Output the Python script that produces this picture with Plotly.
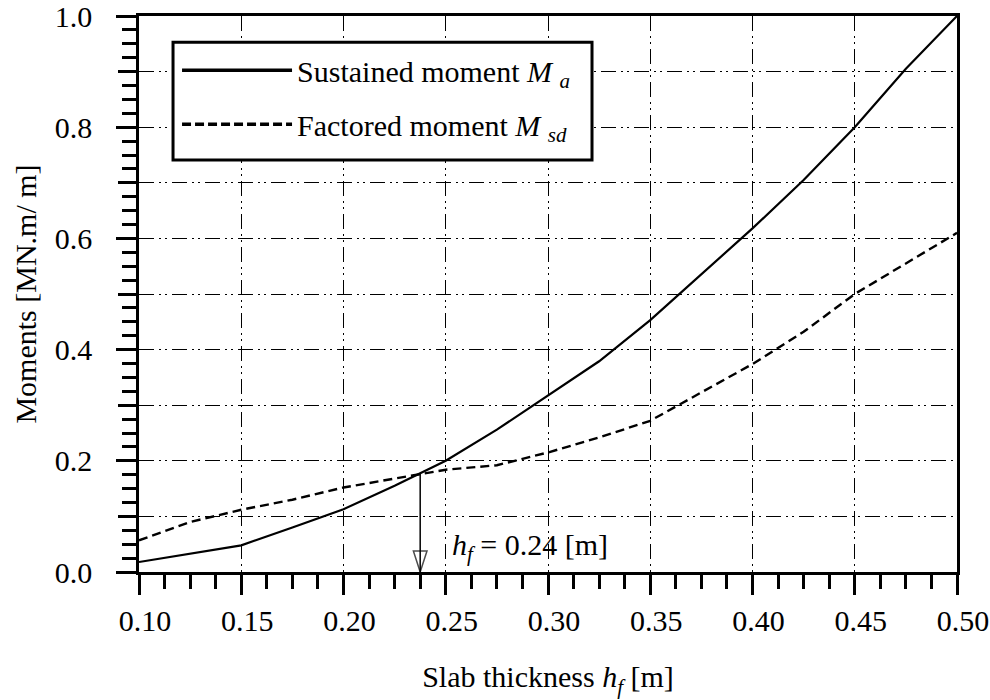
import plotly.graph_objects as go

# ---- data ----
thickness = [0.100, 0.125, 0.150, 0.175, 0.200, 0.225, 0.250, 0.275, 0.300,
             0.325, 0.350, 0.375, 0.400, 0.425, 0.450, 0.475, 0.500]
sustained_moment = [0.018, 0.033, 0.048, 0.080, 0.113, 0.155, 0.200, 0.256, 0.318,
                    0.379, 0.453, 0.535, 0.618, 0.705, 0.800, 0.905, 1.000]
factored_moment = [0.057, 0.090, 0.112, 0.130, 0.152, 0.168, 0.184, 0.192, 0.215,
                   0.242, 0.272, 0.323, 0.374, 0.432, 0.500, 0.555, 0.610]
hf_value = 0.2375
hf_moment = 0.177
hf_label = "<i>h<sub>f</sub></i> = 0.24 [m]"

series_names = ["Sustained moment <i>M</i> <sub><i>a</i></sub>",
                "Factored moment <i>M</i> <sub><i>sd</i></sub>"]

x_tickvals = [0.10, 0.15, 0.20, 0.25, 0.30, 0.35, 0.40, 0.45, 0.50]
x_ticktext = ["0.10", "0.15", "0.20", "0.25", "0.30", "0.35", "0.40", "0.45", "0.50"]
y_labelvals = [0.0, 0.2, 0.4, 0.6, 0.8, 1.0]
y_labeltext = ["0.0", "0.2", "0.4", "0.6", "0.8", "1.0"]
y_gridvals = [0.0, 0.1, 0.2, 0.3, 0.4, 0.5, 0.6, 0.7, 0.8, 0.9, 1.0]

FONT = "Liberation Serif"
GRID_DASH = "15px,5px,2px,4px,2px,5px"
FS = 30
SOLID_DASH = "solid"
DASHED = "9px,5px"

fig = go.Figure()
fig.add_trace(go.Scatter(
    x=thickness, y=sustained_moment, mode="lines", name=series_names[0],
    line=dict(color="black", width=2.2, dash=SOLID_DASH), showlegend=False))
fig.add_trace(go.Scatter(
    x=thickness, y=factored_moment, mode="lines", name=series_names[1],
    line=dict(color="black", width=2.4, dash=DASHED), showlegend=False))
# legend entries (thicker sample lines, as in the reference legend)
fig.add_trace(go.Scatter(
    x=[None], y=[None], mode="lines", name=series_names[0], legendgroup="a",
    line=dict(color="black", width=3.5, dash=SOLID_DASH)))
fig.add_trace(go.Scatter(
    x=[None], y=[None], mode="lines", name=series_names[1], legendgroup="b",
    line=dict(color="black", width=3.5, dash="9px,4px")))
# arrow from intersection down to the axis (on the overlay axis, same range)
fig.add_trace(go.Scatter(
    x=[hf_value, hf_value], y=[hf_moment, 0.0], mode="lines+markers",
    yaxis="y2",
    line=dict(color="black", width=1.5),
    marker=dict(symbol="arrow-open", size=[0, 22], angleref="previous",
                color="black", line=dict(color="black", width=1.5)),
    showlegend=False, hoverinfo="skip", cliponaxis=False))

fig.add_annotation(x=hf_value + 0.0145, y=0.045, xanchor="left", yanchor="middle",
                   text=hf_label, showarrow=False,
                   font=dict(family=FONT, size=FS, color="black"))

# legend frame (white box, thick border) drawn above the plot, below the legend
fig.add_shape(type="rect", xref="paper", yref="paper",
              x0=0.0416, x1=0.5538, y0=0.741, y1=0.953,
              fillcolor="white", line=dict(color="black", width=3), layer="above")

tick_common = dict(ticks="outside", ticklen=20, tickwidth=3, tickcolor="black")
grid_common = dict(gridcolor="black", gridwidth=1.2, griddash=GRID_DASH)
label_font = dict(family=FONT, size=FS, color="black")

fig.update_layout(
    xaxis=dict(
        range=[0.10, 0.50], tickmode="array", tickvals=x_tickvals, ticktext=x_ticktext,
        showline=True, linecolor="black", linewidth=2.5, mirror=True,
        showgrid=True, zeroline=False, ticklabelstandoff=0, ticklabelshift=6,
        ticklabeloverflow="allow", tickfont=label_font,
        minor=dict(dtick=0.0125, tick0=0.1, ticklen=14, tickwidth=3, tickcolor="black",
                   ticks="outside", showgrid=False),
        title=dict(text="Slab thickness <i>h<sub>f</sub></i> [m]", standoff=31,
                   font=label_font),
        **tick_common, **grid_common),
    yaxis=dict(
        range=[0.0, 1.0], tickmode="array", tickvals=y_labelvals, ticktext=y_labeltext,
        showline=True, linecolor="black", linewidth=2.5, mirror=True,
        showgrid=False, zeroline=False, ticklabelstandoff=18,
        ticklabeloverflow="allow", tickfont=label_font,
        minor=dict(dtick=0.025, tick0=0.0, ticklen=14, tickwidth=3, tickcolor="black",
                   ticks="outside", showgrid=False),
        title=dict(text="Moments [MN.m/ m]", standoff=10, font=label_font),
        **tick_common),
    yaxis2=dict(
        range=[0.0, 1.0], overlaying="y", side="left", anchor="x",
        tickmode="array", tickvals=y_gridvals, showticklabels=False,
        showline=False, zeroline=False, showgrid=True,
        **tick_common, **grid_common),
    width=990, height=700,
    margin=dict(l=139, r=33, t=16, b=128, autoexpand=False),
    paper_bgcolor="white", plot_bgcolor="white",
    font=dict(family=FONT, size=FS, color="black"),
    showlegend=True,
    legend=dict(x=0.0465, y=0.9494, xanchor="left", yanchor="top",
                bgcolor="rgba(0,0,0,0)", borderwidth=0,
                font=dict(family=FONT, size=FS, color="black"),
                itemwidth=110, tracegroupgap=12, traceorder="grouped"),
)

fig.write_html("out.html")
